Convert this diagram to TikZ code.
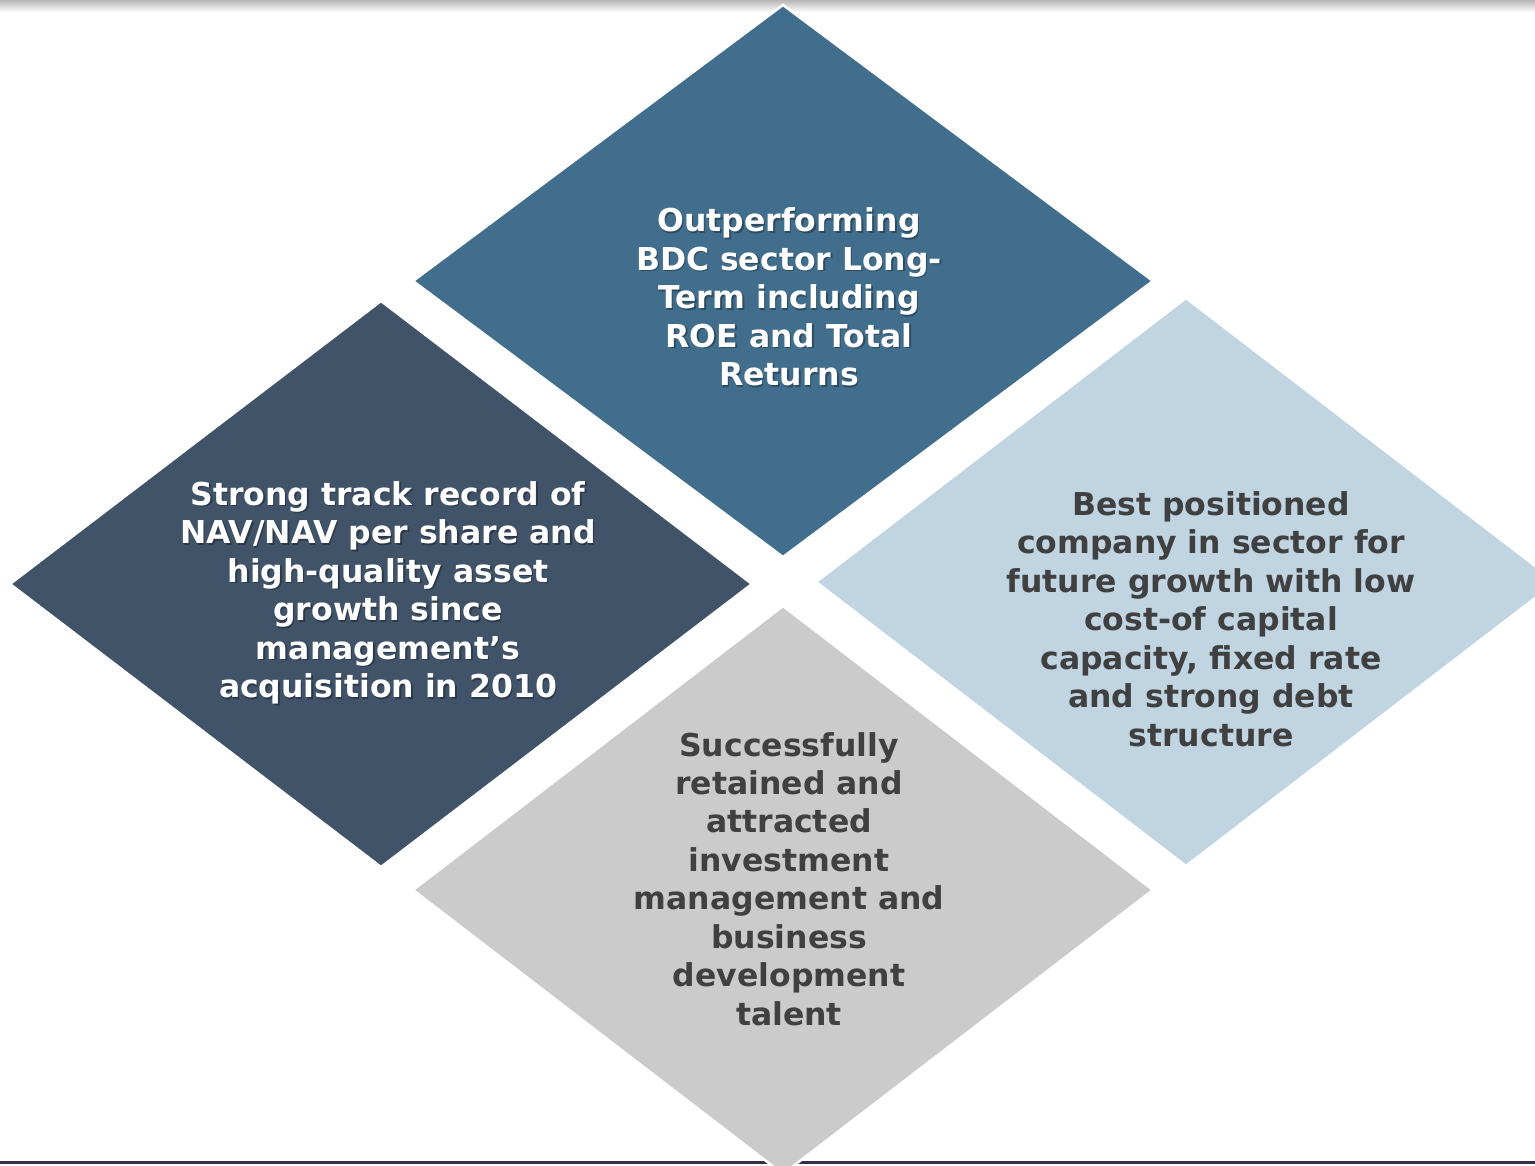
\documentclass[tikz,border=0pt]{standalone}
\usepackage{fontspec}
\setmainfont{DejaVu Sans}
\definecolor{topblue}{RGB}{65,110,140}
\definecolor{slate}{RGB}{65,83,105}
\definecolor{paleblue}{RGB}{192,212,226}
\definecolor{lightgray}{RGB}{203,203,203}
\definecolor{darktext}{RGB}{64,64,64}
\definecolor{rule}{RGB}{48,48,74}
\begin{document}
\begin{tikzpicture}[x=1pt,y=-1pt,
  tile/.style={draw=white,line width=2.5pt,line join=miter},
  label/.style={align=center,font=\fontsize{31.5}{38.5}\selectfont\bfseries,inner sep=0pt},
  lighttext/.style={label,text=white},
  darklabel/.style={label,text=darktext}]
\useasboundingbox (0,0) rectangle (1535,1166);
\clip (0,0) rectangle (1535,1166);
% soft band along the top edge
\shade[top color=black!28,bottom color=white] (0,0) rectangle (1535,12);
% rule along the bottom edge
\fill[rule] (0,1160.5) rectangle (1535,1164);
% the four tiles
\newcommand\tile[5]{\filldraw[tile,fill=#1] (#2-#4,#3) -- (#2,#3-#5) -- (#2+#4,#3) -- (#2,#3+#5) -- cycle;}
\tile{topblue}{783}{281}{370}{276}
\tile{slate}{381}{584}{371}{283}
\tile{paleblue}{1186}{582}{370}{284}
\tile{lightgray}{783}{890}{370}{284}
% texts (white ones carry a faint drop shadow)
\newcommand\shadowtext[4]{%
  \node[label,text=black,opacity=0.3] at (#1+1.5,#2+1.5) {#3};
  \node[lighttext] (#4) at (#1,#2) {#3};}
\shadowtext{789}{297}{Outperforming\\BDC sector Long-\\Term including\\ROE and Total\\Returns}{outperf}
\shadowtext{388}{593}{Strong track record of\\NAV/NAV per share and\\high-quality asset\\growth since\\management’s\\acquisition in 2010}{track}
\node[darklabel] (best) at (1211,619) {Best positioned\\company in sector for\\future growth with low\\cost-of capital\\capacity, fixed rate\\and strong debt\\structure};
\node[darklabel] (talent) at (789,879) {Successfully\\retained and\\attracted\\investment\\management and\\business\\development\\talent};
\end{tikzpicture}
\end{document}
